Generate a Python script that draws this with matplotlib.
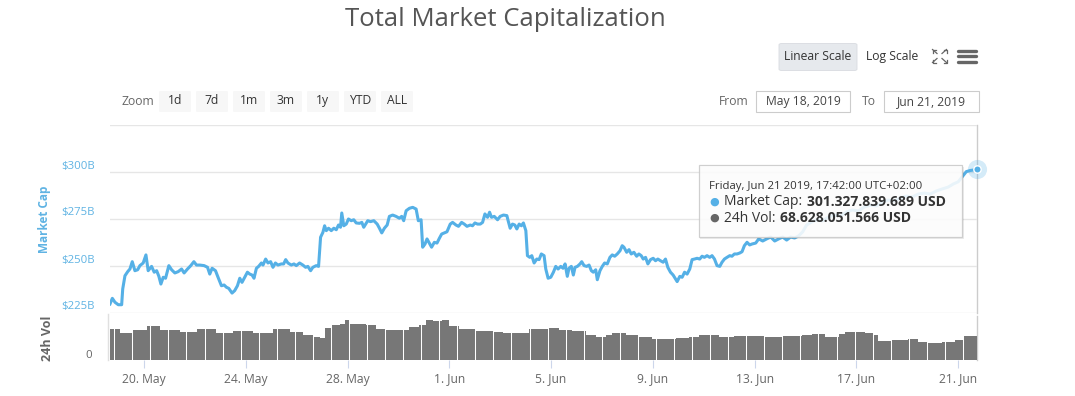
"""Total market capitalization chart (market cap line + 24h volume pane)."""

import matplotlib

matplotlib.use("Agg")
import matplotlib.pyplot as plt
import matplotlib.transforms as mtransforms
from matplotlib.lines import Line2D
from matplotlib.patches import FancyBboxPatch, Rectangle
import numpy as np
import pandas as pd

W, H = 1075, 396
START = pd.Timestamp("2019-05-18 00:00")

# market cap, billions USD; hours counted from START
cap_hours = [
    16, 18.2, 20.7, 23.8, 27, 28, 30.1, 32.7, 34.8, 37, 39.5, 42.1, 44.2, 47.3, 49.9,
    52, 55.2, 57.7, 60, 62.1, 64, 66.2, 68.4, 71.5, 74.1, 77.2, 80.3, 83.5, 85.9, 89.1,
    92.2, 95.1, 97.6, 100.7, 104.8, 108, 110.1, 112.3, 115.5, 117.9, 121.1, 123.6, 125.8,
    128, 131.1, 133.6, 136.2, 138.4, 140.5, 143.1, 145.6, 147.8, 150, 151.8, 154.1, 156.2,
    158.8, 160.3, 162.8, 165, 167.5, 169.7, 172, 174.4, 177.6, 179.8, 181.7, 183.8, 187,
    189.5, 191.7, 194.8, 197.9, 200.5, 202.6, 205.2, 207.3, 210.5, 212.7, 214.6, 216.8,
    218.4, 220, 222.1, 224.7, 227.1, 229.4, 231.5, 233.4, 234.6, 236.5, 238.8, 240.9,
    243.5, 245.9, 248.2, 251.3, 253.5, 255.3, 259.1, 261.7, 264.8, 268, 270.1, 272.3,
    274.8, 277.4, 279.5, 282.6, 285.8, 288.9, 291.1, 293, 295.3, 298.4, 301.5, 304.7,
    306.8, 309.4, 310.9, 313.1, 315, 317.2, 319.3, 321.9, 324.4, 326.6, 328.8, 331.3,
    333.8, 336.9, 339.1, 342.3, 344.7, 347.6, 350.1, 352.7, 355.8, 357.9, 360.2, 362.6,
    365.2, 367.4, 369.6, 372.1, 374, 375.8, 378.4, 381.5, 384, 387.1, 390.3, 391.5, 393.4,
    395.6, 397.8, 399.7, 401.9, 404, 405.9, 408.2, 409.7, 411.9, 413.8, 416, 418.5, 420.7,
    422.8, 425.4, 427, 429.2, 431.7, 434.2, 436.4, 438.6, 441.1, 443.3, 445.2, 447.3,
    448.9, 451.1, 453, 454.6, 456.8, 459.3, 460.9, 463.1, 465.6, 467.8, 470, 471.8, 474.1,
    475.6, 478.1, 480.3, 482.5, 485, 487.5, 489.7, 492, 494.4, 497, 499.1, 500.7, 503.3,
    505.5, 507.6, 510.1, 512.7, 514.8, 517, 518.9, 521.1, 523.3, 525.8, 528.3, 530.5,
    532.7, 535.2, 537.7, 539.9, 542.1, 544.6, 547.1, 549.4, 550.9, 553.4, 555.6, 557.9,
    560.3, 562.8, 565, 567.3, 569.7, 572.2, 574.4, 576.6, 579.1, 581.6, 583.8, 586.1,
    588.5, 591.1, 593.2, 595.5, 597.9, 600.5, 602.6, 604.9, 607.4, 609.9, 612.1, 614.3,
    616.8, 619.3, 621.5, 625, 627.8, 631.6, 635.3, 639.1, 642.9, 646.6, 650.4, 654.2,
    657.9, 661.7, 665.4, 669.2, 673, 677.6, 682.4, 688, 693.7, 699.3, 705, 710.6, 716.2,
    721.9, 727.5, 733.2, 738.8, 744.5, 750.1, 755.8, 761.4, 767.1, 772.7, 778.4, 784,
    789.7, 795.3, 801, 806.6, 811.3, 816, 819.8, 823.6, 827.3, 833.7,
]
cap_values = [
    229.8, 232.8, 230.7, 229.4, 229.4, 237.8, 244.8, 247.0, 248.4, 252.3, 247.5, 248.0,
    250.2, 251.6, 255.9, 247.5, 249.8, 246.7, 247.5, 244.5, 240.4, 244.0, 243.5, 250.2,
    248.0, 246.3, 247.0, 248.4, 246.3, 248.4, 250.2, 252.3, 250.5, 250.5, 250.2, 249.3,
    245.7, 248.8, 247.5, 244.0, 239.5, 239.9, 238.7, 238.1, 235.6, 236.9, 239.5, 243.5,
    241.3, 244.0, 246.7, 245.7, 245.2, 243.5, 248.8, 249.8, 251.6, 250.5, 253.7, 251.6,
    252.3, 249.3, 251.6, 250.5, 251.1, 251.1, 253.4, 251.6, 250.5, 251.1, 250.2, 251.6,
    250.5, 249.3, 249.8, 247.5, 249.3, 250.2, 249.8, 265.3, 267.9, 271.4, 268.8, 270.1,
    268.8, 270.1, 269.3, 271.8, 270.6, 278.2, 271.4, 272.3, 275.0, 274.1, 274.6, 272.9,
    272.7, 273.2, 270.6, 274.1, 273.6, 274.1, 272.3, 270.1, 267.6, 270.1, 271.8, 276.4,
    277.1, 276.4, 275.4, 276.4, 274.1, 279.4, 280.7, 281.2, 280.3, 274.1, 274.6, 260.0,
    261.7, 264.4, 262.2, 260.0, 262.6, 262.2, 264.7, 267.0, 267.6, 268.2, 272.3, 273.2,
    271.8, 271.1, 273.2, 272.3, 271.1, 271.8, 271.4, 272.9, 272.3, 272.3, 273.2, 277.7,
    275.9, 278.6, 275.9, 276.4, 274.6, 276.4, 277.1, 276.8, 274.1, 270.1, 272.3, 271.8,
    269.7, 272.3, 271.4, 272.9, 268.8, 255.5, 254.6, 255.5, 251.6, 253.7, 253.4, 256.4,
    255.5, 248.4, 243.5, 244.0, 246.7, 249.8, 248.4, 249.8, 248.8, 251.1, 244.5, 248.8,
    249.8, 245.2, 249.3, 249.8, 251.1, 252.3, 250.2, 249.8, 250.5, 247.5, 246.7, 248.0,
    242.7, 247.5, 249.8, 251.6, 251.1, 254.6, 255.9, 255.2, 256.4, 258.1, 260.8, 260.0,
    257.3, 258.7, 256.4, 257.3, 255.2, 256.4, 255.5, 253.7, 254.6, 251.1, 253.4, 254.1,
    252.8, 253.7, 252.8, 252.0, 253.7, 249.3, 246.7, 245.2, 243.1, 241.7, 244.5, 244.0,
    246.7, 245.7, 248.4, 253.4, 253.7, 254.1, 253.7, 255.2, 254.6, 255.5, 254.6, 255.5,
    253.7, 250.2, 249.8, 252.0, 253.7, 254.6, 255.5, 255.2, 256.4, 256.4, 256.9, 257.6,
    260.8, 262.6, 261.2, 261.7, 262.2, 264.4, 263.3, 264.4, 265.4, 263.3, 264.4, 265.4,
    263.8, 265.4, 264.9, 266.0, 268.1, 271.8, 273.4, 274.5, 274.0, 276.1, 277.1, 276.6,
    278.7, 279.8, 279.3, 281.4, 282.4, 281.9, 284.0, 285.1, 284.6, 286.2, 287.2, 286.7,
    288.3, 288.8, 288.3, 289.9, 291.0, 292.0, 293.6, 294.8, 297.5, 300.2, 300.8, 301.33,
]

# 24h volume, billions USD
vol_hours = [
    16, 25.4, 37, 50.5, 63.1, 81.9, 97.6, 116.4, 132, 150.9, 169.7, 185.4, 197.9, 207.3,
    213.7, 218.4, 224.7, 232.5, 237.2, 241.9, 257.6, 267, 276.4, 288.9, 298.4, 307.8,
    314.1, 320.3, 329.1, 336, 345.4, 361.1, 376.8, 386.2, 398.8, 411.3, 420.7, 430.1,
    439.6, 452.1, 464.7, 474.1, 483.5, 489.7, 502.3, 514.8, 527.4, 539.9, 549.4, 561.9,
    571.3, 590.2, 604.3, 618.4, 634.1, 649.8, 668.6, 678, 690.6, 703.2, 709.4, 718.9,
    728.3, 736.1, 740.8, 753.3, 769, 778.4, 787.8, 800.3, 812.9, 820.7, 833.7,
]
vol_values = [
    84.3, 73.3, 82.4, 91.4, 82.4, 77.7, 84.3, 74.9, 80.4, 74.9, 84.3, 77.7, 68.6, 63.0,
    60.4, 87.0, 96.0, 98.0, 109.8, 98.8, 96.0, 84.3, 82.4, 82.4, 89.7, 96.0, 107.9, 105.1,
    109.8, 91.4, 85.1, 80.4, 77.7, 73.3, 74.9, 84.3, 84.3, 87.0, 82.4, 80.4, 68.6, 64.0,
    68.6, 73.3, 68.6, 62.3, 57.6, 56.8, 59.6, 64.0, 68.6, 63.1, 65.9, 65.9, 64.0, 65.9,
    68.6, 70.5, 64.0, 70.5, 76.0, 77.7, 73.3, 68.6, 53.0, 54.9, 56.8, 50.2, 45.8, 50.2,
    54.9, 65.9, 68.6,
]

tick_days = ["2019-05-20", "2019-05-24", "2019-05-28", "2019-06-01", "2019-06-05",
             "2019-06-09", "2019-06-13", "2019-06-17", "2019-06-21"]
cap_ticks = [225, 250, 275, 300, 325]
zoom_buttons = ["1d", "7d", "1m", "3m", "1y", "YTD", "ALL"]
range_from, range_to = "May 18, 2019", "Jun 21, 2019"
tooltip_date = "Friday, Jun 21 2019, 17:42:00 UTC+02:00"
tooltip_cap = "301.327.839.689 USD"
tooltip_vol = "68.628.051.566 USD"

BLUE = "#55b0e6"
GREY = "#777777"
FONT = "Open Sans"

plt.rcParams["font.family"] = [FONT, "DejaVu Sans"]

cap_times = START + pd.to_timedelta(cap_hours, unit="h")
vol_times = START + pd.to_timedelta(vol_hours, unit="h")
ticks = pd.to_datetime(tick_days)
tick_labels = [f"{d.day}. {d.strftime('%b')}" for d in ticks]


def fx(x):
    return x / W


def fy(y):
    return 1 - y / H


def fig_box(fig, x0, y0, x1, y1, **kw):
    fig.patches.append(Rectangle((fx(x0), fy(y1)), (x1 - x0) / W, (y1 - y0) / H,
                                 transform=fig.transFigure, **kw))


def fig_text(fig, x, y, s, **kw):
    kw.setdefault("ha", "center")
    kw.setdefault("va", "center")
    return fig.text(fx(x), fy(y), s, **kw)


fig = plt.figure(figsize=(W / 100, H / 100), dpi=100)
ax = fig.add_axes([fx(110), fy(313), 867 / W, (313 - 125) / H])
axv = fig.add_axes([fx(110), fy(360), 867 / W, (360 - 316) / H], sharex=ax)

# market cap pane
ax.plot(cap_times, cap_values, color=BLUE, lw=2.2, solid_joinstyle="round", zorder=3)
ax.set_ylim(cap_ticks[0], cap_ticks[-1])
ax.set_yticks(cap_ticks)
ax.grid(axis="y", color="#e6e6e6", lw=1)
ax.tick_params(axis="both", length=0, labelleft=False, labelbottom=False)
for s in ax.spines.values():
    s.set_visible(False)
label_tr = mtransforms.offset_copy(ax.get_yaxis_transform(), fig=fig, x=-15, y=6, units="dots")
for v in cap_ticks[:-1]:
    ax.text(0, v, f"${v}B", transform=label_tr, ha="right", va="center",
            color="#5fb3e3", fontsize=8.2)
ax.text(-0.075, 0.5, "Market Cap", transform=ax.transAxes, rotation=90, ha="center",
        va="center", color="#5fb3e3", fontsize=8.5, fontweight="bold")

# last point marker
ax.scatter([cap_times[-1]], [cap_values[-1]], s=190, color=BLUE, alpha=0.25, lw=0,
           zorder=4, clip_on=False)
ax.scatter([cap_times[-1]], [cap_values[-1]], s=28, color=BLUE, edgecolor="white",
           lw=1, zorder=5, clip_on=False)

# volume pane
axv.fill_between(vol_times, vol_values, step="post", color=GREY, lw=0, zorder=2)
for h in np.arange(20, cap_hours[-1], 17.03):
    axv.axvline(START + pd.Timedelta(hours=float(h)), color="white", lw=0.75, zorder=3)
axv.set_ylim(0, 120)
axv.set_yticks([])
for s in axv.spines.values():
    s.set_visible(False)
axv.set_xlim(cap_times[0], cap_times[-1])
axv.set_xticks(ticks)
axv.set_xticklabels(tick_labels)
axv.tick_params(axis="x", length=6, color="#ccd6eb", labelcolor="#666666",
                labelsize=8.7, pad=3)
zero_tr = mtransforms.offset_copy(axv.get_yaxis_transform(), fig=fig, x=-18, y=5, units="dots")
axv.text(0, 0, "0", transform=zero_tr, ha="right", va="center", color="#666666", fontsize=8.2)
axv.text(-0.072, 0.5, "24h Vol", transform=axv.transAxes, rotation=90, ha="center",
         va="center", color="#666666", fontsize=9, fontweight="bold")
fig.lines.append(Line2D([fx(107.5)] * 2, [fy(314), fy(360)], transform=fig.transFigure,
                        color="#e0e0e0", lw=1))

# crosshair at the hovered point
for a in (ax, axv):
    a.axvline(cap_times[-1], color="#cccccc", lw=1, zorder=1, clip_on=False)

# title and controls
fig_text(fig, 505, 19, "Total Market Capitalization", fontsize=18.5, color="#555555")
fig.patches.append(FancyBboxPatch((fx(779), fy(70.5)), 78 / W, 27 / H,
                                  boxstyle="round,pad=0,rounding_size=0.003",
                                  transform=fig.transFigure, facecolor="#e6e9ed",
                                  edgecolor="#d8dbe0", lw=0.6))
fig_text(fig, 818, 56.5, "Linear Scale", fontsize=8.7, color="#333333")
fig_text(fig, 892, 56.5, "Log Scale", fontsize=8.7, color="#333333")
for sx, sy in [(-1, -1), (1, -1), (-1, 1), (1, 1)]:
    cx, cy = 939.5 + sx * 2.5, 56 + sy * 2.5
    ex, ey = 939.5 + sx * 7, 56 + sy * 6.5
    fig.lines.append(Line2D([fx(cx), fx(ex)], [fy(cy), fy(ey)], transform=fig.transFigure,
                            color="#666666", lw=0.9))
    fig.lines.append(Line2D([fx(ex - sx * 3), fx(ex), fx(ex)], [fy(ey), fy(ey), fy(ey - sy * 3)],
                            transform=fig.transFigure, color="#666666", lw=0.9))
for yy in (50.5, 56, 61.5):
    fig.lines.append(Line2D([fx(958), fx(976)], [fy(yy)] * 2, transform=fig.transFigure,
                            color="#666666", lw=2.4, solid_capstyle="round"))

fig_text(fig, 138, 101.5, "Zoom", fontsize=8.7, color="#666666")
for i, lab in enumerate(zoom_buttons):
    x0 = 159 + i * 37
    fig.patches.append(FancyBboxPatch((fx(x0), fy(112)), 32 / W, 21 / H,
                                      boxstyle="round,pad=0,rounding_size=0.002",
                                      transform=fig.transFigure, facecolor="#f7f7f7",
                                      edgecolor="none"))
    fig_text(fig, x0 + 16, 101, lab, fontsize=8.7, color="#333333")

fig_text(fig, 734, 101.5, "From", fontsize=8.7, color="#666666")
fig_box(fig, 756, 91, 850, 112, facecolor="white", edgecolor="#cccccc", lw=0.8)
fig_text(fig, 803, 101.5, range_from, fontsize=8.7, color="#444444")
fig_text(fig, 869, 101.5, "To", fontsize=8.7, color="#666666")
fig_box(fig, 884, 91, 979, 112, facecolor="white", edgecolor="#cccccc", lw=0.8)
fig_text(fig, 931.5, 101.5, range_to, fontsize=8.7, color="#444444")

# tooltip
fig_box(fig, 700, 167, 964, 239, facecolor="#000000", alpha=0.08, lw=0, zorder=5)
fig_box(fig, 698.5, 165, 962, 237.5, facecolor="white", alpha=0.88, edgecolor="#c9c9c9",
        lw=0.9, zorder=6)
fig_text(fig, 709, 186, tooltip_date, ha="left", fontsize=8.2, color="#333333", zorder=7)
fig_text(fig, 714, 202.5, "\u25cf", fontsize=8, color=BLUE, zorder=7)
fig_text(fig, 714, 218.5, "\u25cf", fontsize=8, color="#666666", zorder=7)
fig.canvas.draw()
renderer = fig.canvas.get_renderer()
for y, name, value in [(202, "Market Cap:", tooltip_cap), (218, "24h Vol:", tooltip_vol)]:
    t = fig_text(fig, 724, y, name, ha="left", fontsize=10, color="#333333", zorder=7)
    right = t.get_window_extent(renderer).x1
    fig.text(right / W + 5 / W, fy(y), value, ha="left", va="center", fontsize=10,
             fontweight="bold", color="#333333", zorder=7)

fig.savefig("out.png", dpi=100)
